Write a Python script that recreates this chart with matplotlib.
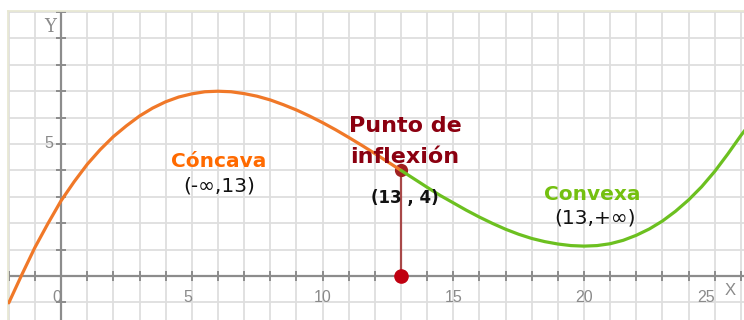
import matplotlib
matplotlib.use("Agg")
import matplotlib.pyplot as plt

# curve sampled every half unit, split at the inflection point x = 13
x_concave = [-2, -1.5, -1, -0.5, 0, 0.5, 1, 1.5, 2, 2.5, 3, 3.5, 4, 4.5, 5,
             5.5, 6, 6.5, 7, 7.5, 8, 8.5, 9, 9.5, 10, 10.5, 11, 11.5, 12,
             12.5, 13]
y_concave = [-1.02, 0.05, 1.08, 1.99, 2.85, 3.57, 4.23, 4.79, 5.28, 5.69,
             6.06, 6.36, 6.60, 6.78, 6.90, 6.98, 7.00, 6.98, 6.91, 6.81,
             6.67, 6.49, 6.29, 6.06, 5.81, 5.54, 5.25, 4.95, 4.64, 4.32, 4.00]
x_convex = [13, 13.5, 14, 14.5, 15, 15.5, 16, 16.5, 17, 17.5, 18, 18.5, 19,
            19.5, 20, 20.5, 21, 21.5, 22, 22.5, 23, 23.5, 24, 24.5, 25, 25.5,
            26, 26.2]
y_convex = [4.00, 3.68, 3.36, 3.05, 2.77, 2.49, 2.23, 1.99, 1.77, 1.58, 1.42,
            1.30, 1.21, 1.15, 1.13, 1.15, 1.22, 1.35, 1.54, 1.78, 2.08, 2.45,
            2.88, 3.38, 3.96, 4.62, 5.32, 5.58]

inflection = (13, 4)
x_ticks = [0, 5, 10, 15, 20, 25]
y_ticks = [5]

fig = plt.figure(figsize=(7.44, 3.2), dpi=100)
ax = fig.add_axes([8 / 744, 0, 736 / 744, 309 / 320])
ax.set_xlim(-2.03, 26.12)
ax.set_ylim(-1.67, 10.04)

# unit grid
ax.set_xticks(range(-2, 27))
ax.set_yticks(range(-1, 11))
ax.grid(True, color="#dedede", linewidth=1.3)
ax.tick_params(length=0, labelbottom=False, labelleft=False)
for side in ["right", "bottom"]:
    ax.spines[side].set_visible(False)
for side in ["top", "left"]:
    ax.spines[side].set_color("#e8e8d4")
    ax.spines[side].set_linewidth(1.3)

# coordinate axes with small unit marks
ax.axhline(0, color="#8c8c8c", linewidth=1.6, zorder=2)
ax.axvline(0, color="#8c8c8c", linewidth=1.6, zorder=2)
ax.plot(range(-2, 27), [0] * 29, linestyle="none", marker="|",
        markersize=7, color="#8c8c8c", markeredgewidth=1.4, zorder=2)
ax.plot([0] * 12, range(-1, 11), linestyle="none", marker="_",
        markersize=7, color="#8c8c8c", markeredgewidth=1.4, zorder=2)

for v in x_ticks:
    ha = "center" if v in (10, 15, 20) else "right"
    ax.text(v, -0.83, str(v), ha=ha, va="center", fontsize=11.5,
            color="#8a8a8a", family="Liberation Sans")
for v in y_ticks:
    ax.text(-0.3, v, str(v), ha="right", va="center", fontsize=11.5,
            color="#8a8a8a", family="Liberation Sans")
ax.text(-0.2, 9.45, "Y", ha="right", va="center", fontsize=13,
        color="#8a8a8a", family="DejaVu Serif")
ax.text(25.6, -0.57, "X", ha="center", va="center", fontsize=12,
        color="#8a8a8a", family="Liberation Sans")

# drop line from the inflection point to the x axis
ax.plot([inflection[0], inflection[0]], [0, inflection[1]],
        color="#a84848", linewidth=1.6, zorder=3)
ax.plot(inflection[0], 0, "o", markersize=9.5, color="#c00010", zorder=4)
ax.plot(inflection[0], inflection[1], "o", markersize=8.5, color="#a02020",
        zorder=3)

ax.plot(x_concave, y_concave, color="#f07828", linewidth=2.3, zorder=5,
        solid_capstyle="round")
ax.plot(x_convex, y_convex, color="#6cc020", linewidth=2.3, zorder=5,
        solid_capstyle="round")

# labels sit above the curve
ax.text(6.04, 4.12, "Cóncava", ha="center", va="baseline", fontsize=14.5,
        fontweight="bold", color="#ff6a00", zorder=6)
ax.text(6.04, 3.42, "(-\u221e,13)", ha="center", va="center", fontsize=14.5,
        color="#111111", zorder=6)
ax.text(13.15, 5.47, "Punto de", ha="center", va="baseline",
        fontsize=16, fontweight="bold", color="#8b0010", zorder=6)
ax.text(13.15, 4.28, "inflexión", ha="center", va="baseline",
        fontsize=16, fontweight="bold", color="#8b0010", zorder=6)
ax.text(13.15, 2.94, "(13 , 4)", ha="center", va="center", fontsize=12,
        fontweight="bold", color="#111111", zorder=6)
ax.text(20.32, 2.86, "Convexa", ha="center", va="baseline", fontsize=14.5,
        fontweight="bold", color="#74c010", zorder=6)
ax.text(20.42, 2.2, "(13,+\u221e)", ha="center", va="center", fontsize=14.5,
        color="#111111", zorder=6)

fig.savefig("out.png", dpi=100)
